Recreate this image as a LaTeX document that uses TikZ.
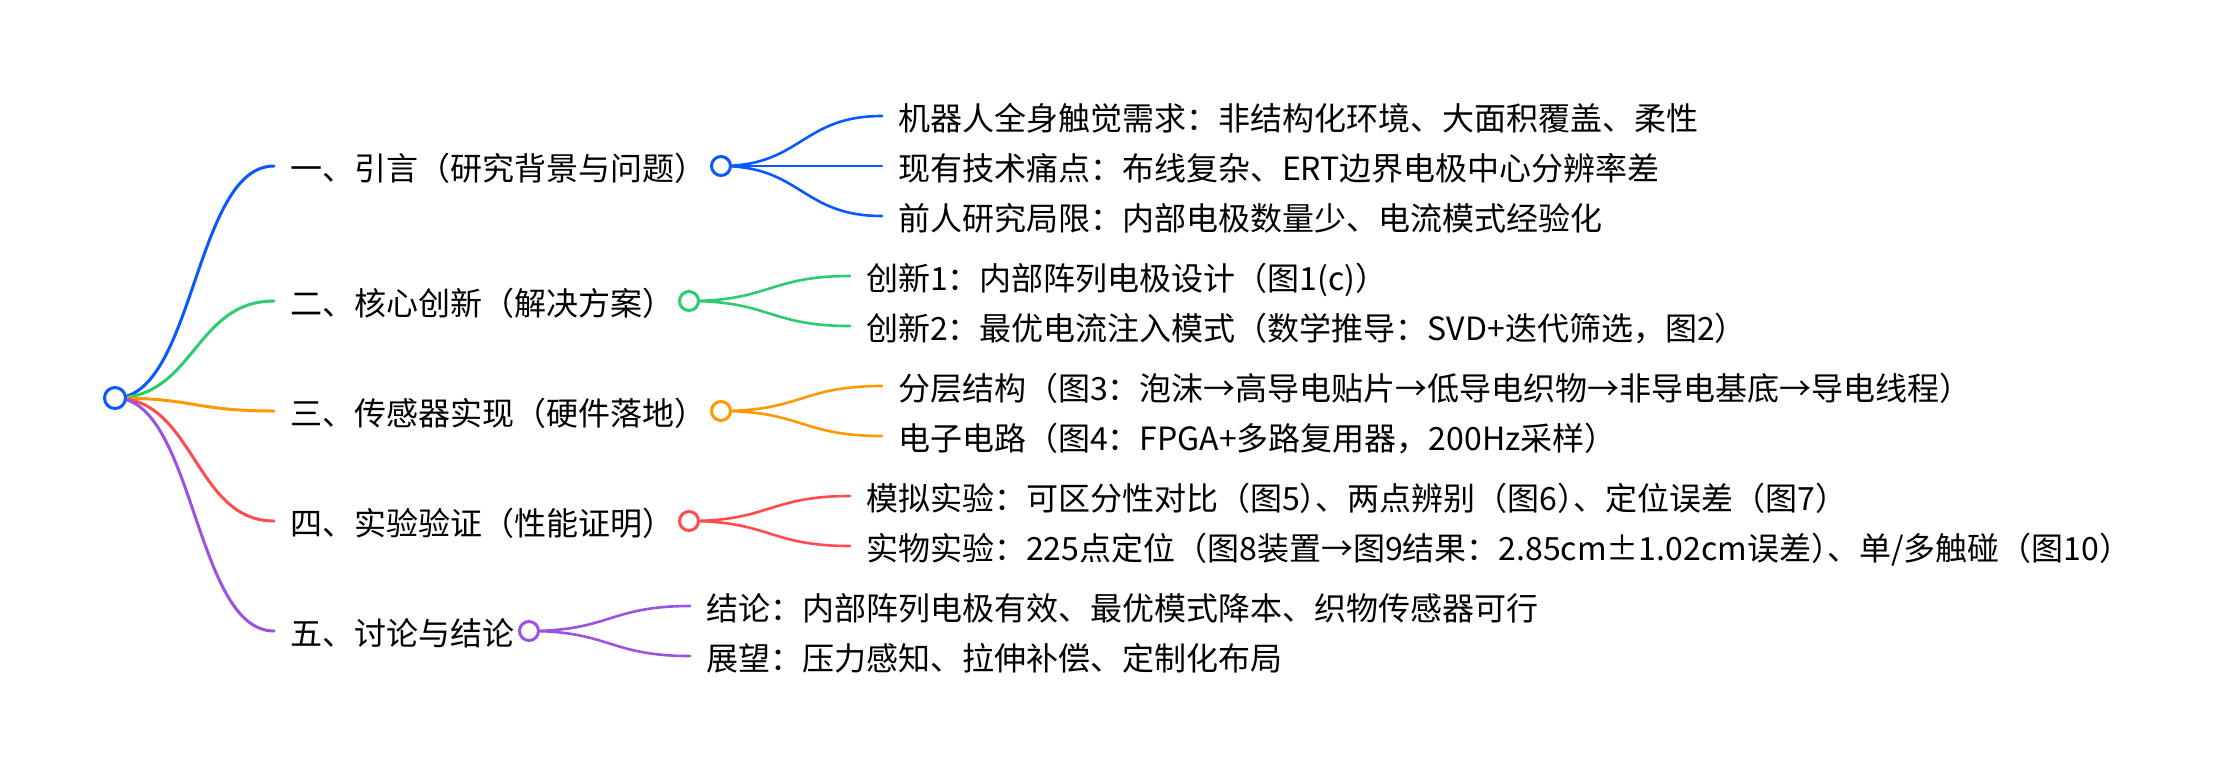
\documentclass[tikz,border=0pt]{standalone}
\usepackage{fontspec}
\setmainfont{Noto Sans CJK SC}
\usetikzlibrary{calc}
\pgfdeclarelayer{back}
\pgfdeclarelayer{bg}
\pgfsetlayers{back,bg,main}
\definecolor{mmblue}{RGB}{10,88,255}
\definecolor{mmgreen}{RGB}{46,204,113}
\definecolor{mmorange}{RGB}{255,153,0}
\definecolor{mmred}{RGB}{255,77,79}
\definecolor{mmpurple}{RGB}{155,84,226}
\newcommand\pc{）\kern-.5em、}
\tikzset{
  txt/.style={anchor=base west,inner sep=0pt,outer sep=0pt,font=\fontsize{32}{38}\selectfont,text=black},
  link/.style={line width=3pt,line cap=round},
  link2/.style={line width=2.6pt,line cap=round},
  dot/.style={circle,draw,fill=white,line width=3pt,minimum size=19pt,inner sep=0pt,outer sep=0pt},
}
\newcommand\mmkid[5]{%
  \coordinate (#4end) at ($(#1)+(161,#2)$);
  \begin{pgfonlayer}{bg}
  \draw[link2,#3] (#1.center) .. controls ($(#1)+(80.5,0)$) and ($(#1)+(80.5,#2)$) .. (#4end);
  \end{pgfonlayer}
  \node[txt] (#4) at ($(#1)+(177,#2+14)$) {#5};}
\newcommand\mmtop[5]{%
  \coordinate (#1y) at (0,#2);
  \coordinate (#1end) at (274,#2);
  \node[txt] (#1) at (290,#2+14) {#4};
  \node[dot,draw=#3] (#5) at ($(#1.east |- #1y)+(15,0)$) {};
  \begin{pgfonlayer}{bg}
  \draw[link,#3] (root.center) .. controls (194.5,398) and (194.5,#2) .. (#1end);
  \end{pgfonlayer}}
\begin{document}
\begin{tikzpicture}[x=1pt,y=-1pt]
\begin{pgfonlayer}{back}
\fill[white] (0,0) rectangle (2232,772);
\end{pgfonlayer}
\useasboundingbox (0,0) rectangle (2232,772);
\node[dot,draw=mmblue,minimum size=21pt] (root) at (115,398) {};
\mmtop{a}{166}{mmblue}{一、引言（研究背景与问题）}{oa}
\mmkid{oa}{-50}{mmblue}{a1}{机器人全身触觉需求：非结构化环境、大面积覆盖、柔性}
\mmkid{oa}{0}{mmblue}{a2}{现有技术痛点：布线复杂、ERT边界电极中心分辨率差}
\mmkid{oa}{50}{mmblue}{a3}{前人研究局限：内部电极数量少、电流模式经验化}
\mmtop{b}{301}{mmgreen}{二、核心创新（解决方案）}{ob}
\mmkid{ob}{-25}{mmgreen}{b1}{创新1：内部阵列电极设计（图1(c)）}
\mmkid{ob}{25}{mmgreen}{b2}{创新2：最优电流注入模式（数学推导：SVD+迭代筛选，图2）}
\mmtop{c}{411}{mmorange}{三、传感器实现（硬件落地）}{oc}
\mmkid{oc}{-25}{mmorange}{c1}{分层结构（图3：泡沫→高导电贴片→低导电织物→非导电基底→导电线程）}
\mmkid{oc}{25}{mmorange}{c2}{电子电路（图4：FPGA+多路复用器，200Hz采样）}
\mmtop{d}{521}{mmred}{四、实验验证（性能证明）}{od}
\mmkid{od}{-25}{mmred}{d1}{模拟实验：可区分性对比（图5\pc 两点辨别（图6\pc 定位误差（图7）}
\mmkid{od}{25}{mmred}{d2}{实物实验：225点定位（图8装置→图9结果：2.85cm±1.02cm误差\pc 单/多触碰（图10）}
\mmtop{e}{631}{mmpurple}{五、讨论与结论}{oe}
\mmkid{oe}{-25}{mmpurple}{e1}{结论：内部阵列电极有效、最优模式降本、织物传感器可行}
\mmkid{oe}{25}{mmpurple}{e2}{展望：压力感知、拉伸补偿、定制化布局}
\end{tikzpicture}
\end{document}
